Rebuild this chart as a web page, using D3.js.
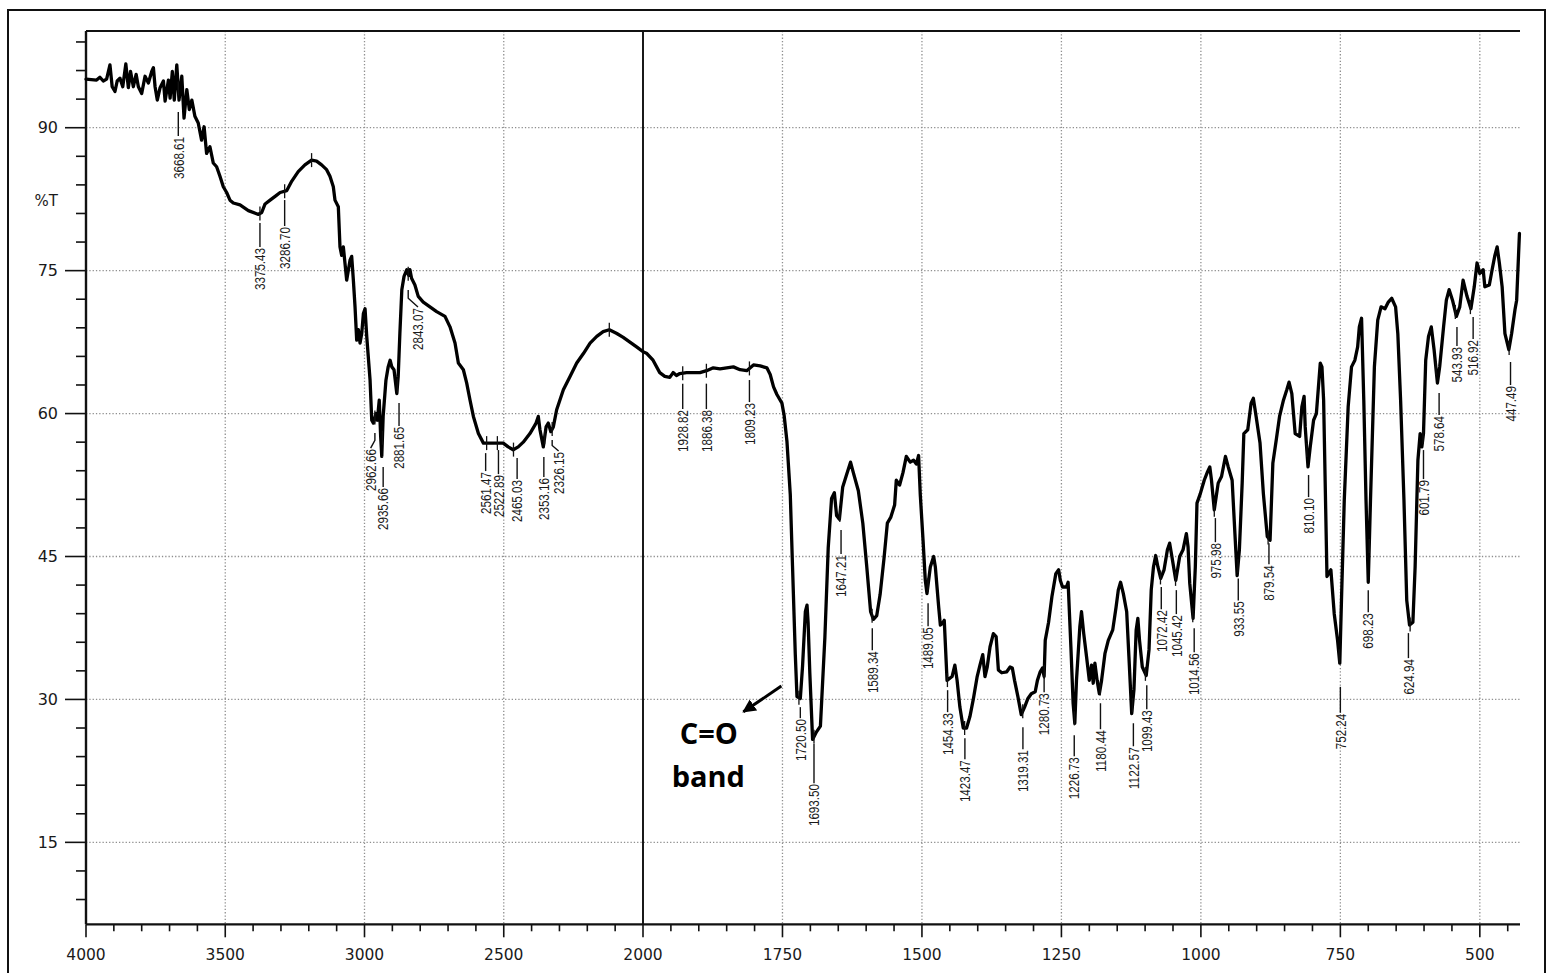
<!DOCTYPE html>
<html><head><meta charset="utf-8">
<script src="https://cdn.jsdelivr.net/npm/d3@7/dist/d3.min.js"></script>
<style>body{margin:0;background:#fff}svg{display:block}</style>
</head><body><svg id="c" width="1551" height="973"></svg>
<script>
// ---------- data ----------
const wavenumber = [4000,3962,3950,3938,3926,3914,3906,3896,3888,3878,3868,3857,3848,3840,3830,3820,3812,3800,3788,3776,3764,3758,3752,3744,3734,3722,3716,3704,3698,3690,3683,3674,3666,3656,3648,3638,3629,3620,3609,3597,3585,3576,3567,3555,3543,3531,3519,3507,3495,3483,3471,3447,3417,3381,3369,3357,3339,3321,3303,3279,3261,3238,3214,3190,3172,3154,3136,3124,3112,3106,3094,3088,3082,3076,3064,3052,3046,3040,3034,3028,3022,3016,3010,3004,2998,2992,2980,2974,2968,2959,2954,2947,2942,2938,2933,2923,2915,2908,2902,2894,2884,2879,2873,2866,2858,2848,2841,2837,2831,2819,2807,2789,2765,2741,2711,2693,2675,2663,2645,2633,2621,2609,2591,2573,2549,2525,2502,2484,2466,2448,2430,2406,2384,2376,2370,2358,2348,2340,2331,2322,2310,2286,2262,2238,2214,2190,2166,2143,2121,2094,2071,2047,2023,2000,
1993,1982,1970,1961,1952,1946,1940,1934,1922,1910,1898,1886,1874,1862,1850,1838,1826,1814,1802,1790,1778,1772,1766,1760,1751,1747,1742,1736,1732,1727,1724,1718,1714,1709,1706,1704,1701,1696,1689,1682,1674,1668,1662,1657,1653,1648,1642,1635,1628,1623,1614,1606,1599,1592,1587,1581,1575,1568,1562,1556,1549,1546,1540,1534,1528,1521,1515,1510,1506,1503,
1498,1494,1491,1485,1479,1476,1470,1467,1463,1460,1455,1446,1441,1437,1432,1426,1420,1414,1408,1401,1396,1391,1387,1383,1378,1372,1367,1363,1357,1348,1342,1338,1334,1328,1322,1316,1310,1304,1297,1293,1288,1284,1281,1279,1273,1267,1260,1255,1252,1248,1241,1238,1233,1229,1226,1223,1217,1214,1210,1205,1200,1196,1193,1190,1186,1182,1178,1172,1166,1158,1152,1148,1144,1139,1133,1129,1124,1120,1116,1113,1110,1105,1098,1093,1089,1085,1081,
1077,1072,1066,1060,1056,1052,1045,1038,1032,1026,1023,1020,1014,1010,1007,1001,994,988,984,981,976,969,963,956,951,944,939,935,931,926,923,916,910,906,901,894,888,881,876,871,865,859,852,846,842,837,831,823,819,815,813,808,804,798,793,786,783,780,774,767,761,755,751,748,743,736,730,724,719,716,712,708,704,700,696,689,683,677,670,664,658,651,647,642,636,631,626,620,616,611,607,604,601,597,592,587,582,576,572,565,560,555,549,542,536,530,523,516,510,505,500,494,491,483,478,473,469,465,460,455,448,443,437,434,429];
const transmittance = [95.1,95.0,95.3,94.9,95.1,96.6,94.3,93.8,94.9,95.2,94.3,96.7,94.2,95.9,94.3,95.6,94.3,93.6,95.4,94.7,95.9,96.3,94.3,92.9,94.2,94.9,92.8,95.0,93.1,95.9,92.9,96.6,92.9,95.4,91.0,94.0,91.9,92.9,91.2,90.5,88.7,90.1,87.3,88.0,86.3,85.9,84.9,83.8,83.2,82.4,82.1,81.9,81.3,80.9,81.1,82.0,82.4,82.8,83.2,83.4,84.4,85.4,86.1,86.6,86.5,86.1,85.6,84.9,83.8,82.4,81.7,77.5,76.6,77.5,74.0,76.1,76.5,74.0,71.2,67.7,68.8,67.4,68.4,70.5,71.0,68.1,63.5,59.3,59.0,60.0,59.3,61.4,57.6,55.5,59.7,63.5,64.9,65.6,64.9,64.6,62.1,63.9,68.4,73.0,74.4,75.1,74.5,75.1,74.2,73.5,72.3,71.7,71.2,70.7,70.2,69.1,67.4,65.3,64.6,63.2,61.4,59.7,57.9,56.9,56.9,56.9,56.9,56.5,56.2,56.5,57.0,57.9,59.0,59.7,58.3,56.5,58.6,59.0,58.1,58.6,60.4,62.5,63.9,65.3,66.3,67.4,68.1,68.6,68.8,68.4,68.0,67.5,67.0,66.5,
66.3,65.6,64.3,63.9,63.8,64.3,64.0,64.2,64.3,64.3,64.3,64.5,64.8,64.7,64.8,64.9,64.6,64.5,65.1,65.0,64.8,64.1,62.8,62.0,61.1,59.8,57.1,51.5,44.0,34.7,30.3,30.1,33.5,39.2,39.9,38.0,32.8,25.8,26.6,27.2,36.5,45.9,51.1,51.7,49.3,48.9,52.3,53.6,54.9,53.8,51.9,48.5,44.0,39.2,38.4,38.8,41.0,44.8,48.5,49.1,50.4,53.0,52.5,53.8,55.5,54.9,55.1,54.7,55.6,51.5,
46.7,42.5,41.1,43.9,45.0,43.9,39.7,37.8,38.0,38.3,32.0,32.4,33.6,32.0,29.2,27.0,27.0,28.2,30.0,32.4,33.6,34.7,32.4,33.4,35.5,36.9,36.6,33.1,32.8,32.9,33.4,33.3,32.0,30.3,28.4,29.2,30.1,30.6,30.8,32.0,32.9,33.3,32.4,36.2,38.1,40.8,43.2,43.6,42.5,41.8,41.8,42.3,35.5,29.6,27.5,32.0,37.6,39.2,36.9,34.5,32.0,33.6,31.7,33.8,32.0,30.6,32.0,34.8,36.2,37.3,39.7,41.5,42.3,41.1,39.2,34.5,28.5,31.0,37.3,38.5,36.2,33.4,32.5,35.2,41.5,43.9,45.1,
43.9,42.7,43.6,45.7,46.4,45.0,42.5,45.0,45.7,47.4,46.0,42.2,38.5,43.9,50.6,51.6,53.0,53.9,54.4,53.0,49.9,52.7,53.4,55.5,54.4,53.0,47.4,43.0,45.7,52.7,57.9,58.3,61.1,61.6,59.7,56.9,51.6,47.1,46.7,54.8,57.2,59.7,61.4,62.5,63.3,62.1,57.9,57.6,60.7,61.8,58.6,54.4,56.5,59.3,60.0,65.3,64.9,61.4,42.9,43.6,39.0,36.2,33.8,40.4,50.9,60.7,64.9,65.6,67.0,69.1,70.0,61.4,50.9,42.3,50.9,64.9,69.8,71.2,71.0,71.7,72.1,71.2,68.4,61.4,50.9,40.4,37.8,38.1,43.9,55.1,57.9,56.5,57.9,65.6,68.1,69.1,66.7,63.2,64.9,69.1,71.9,73.0,71.9,70.2,71.2,74.0,72.3,71.0,73.3,75.8,74.7,75.1,73.3,73.5,75.1,76.6,77.5,75.8,73.3,68.4,66.7,68.4,70.9,71.9,78.9];

const xTickLabels = [4000,3500,3000,2500,2000,1750,1500,1250,1000,750,500];
const yTickLabels = [15,30,45,60,75,90];

// peak annotations: label text, wavenumber where the text sits, %T at top of leader line, %T at top of text
const peakLabels = ["3668.61","3375.43","3286.70","2962.66","2935.66","2881.65","2843.07","2561.47","2522.89","2465.03","2353.16","2326.15","1928.82","1886.38","1809.23","1720.50","1693.50","1647.21","1589.34","1489.05","1454.33","1423.47","1319.31","1280.73","1226.73","1180.44","1122.57","1099.43","1072.42","1045.42","1014.56","975.98","933.55","879.54","810.10","752.24","698.23","624.94","601.79","578.64","543.93","516.92","447.49"];
const peakTextW = [3668.6,3375.4,3286.7,2978,2933,2876,2808,2565,2519,2452,2356,2303,1928.8,1886.4,1809.2,1718,1693.5,1645,1589,1489,1454,1423,1319,1281,1227,1180,1121,1097,1071,1044,1012,974,933,878,807,750,700,628,601,573,541,512,445];
const peakLineTopT = [91.65,80.0,82.41,57.95,54.39,61.1,72.96,55.85,56.17,55.33,55.43,57.22,63.14,63.14,63.52,29.19,25.31,47.77,37.48,40.1,30.97,25.93,27.08,32.86,26.24,29.6,27.5,31.49,41.79,41.47,37.48,49.03,42.7,46.38,53.55,31.32,41.47,36.96,56.17,62.15,69.08,70.13,65.41];
const peakTextTopT = [89.02,77.37,79.58,56.27,52.18,58.6,71.07,53.86,53.54,53.02,53.23,55.96,60.37,60.37,61.1,27.93,21.11,45.15,35.06,37.58,28.56,23.62,24.67,30.65,23.93,26.77,24.98,28.87,39.37,38.85,34.85,46.4,40.29,44.07,51.13,28.49,39.05,34.23,53.02,59.74,66.98,67.72,62.89];
const extraMarks = [3190, 2121];

const noteLines = ["C=O", "band"];
const noteW = [1882, 1883];
const noteT = [25.3, 20.8];
const arrowW = [1752, 1820];
const arrowT = [31.4, 28.7];

// ---------- scales ----------
const svg = d3.select("#c");
const x = d3.scaleLinear().domain([4000, 2000, 428]).range([86, 643, 1520]);
const y = d3.scaleLinear().domain([6.4, 100.15]).range([924.3, 31]);
const X0 = 86, X1 = 1520, Y0 = 31, Y1 = 924.3;

// outer frame
svg.append("rect").attr("x", 8).attr("y", 10).attr("width", 1537).attr("height", 990)
  .attr("fill", "none").attr("stroke", "#111").attr("stroke-width", 2);

// grid
const gridX = xTickLabels.filter(d => d !== 4000 && d !== 2000);
svg.append("g").selectAll("line").data(gridX).join("line")
  .attr("x1", d => x(d)).attr("x2", d => x(d)).attr("y1", Y0).attr("y2", Y1)
  .attr("stroke", "#8f8f8f").attr("stroke-width", 1.3).attr("stroke-dasharray", "1.3,2");
svg.append("g").selectAll("line").data(yTickLabels).join("line")
  .attr("x1", X0).attr("x2", X1).attr("y1", d => y(d)).attr("y2", d => y(d))
  .attr("stroke", "#8f8f8f").attr("stroke-width", 1.3).attr("stroke-dasharray", "1.3,2");

// scale-break line at 2000
svg.append("line").attr("x1", x(2000)).attr("x2", x(2000)).attr("y1", Y0).attr("y2", Y1)
  .attr("stroke", "#000").attr("stroke-width", 1.8);

// axes lines
svg.append("line").attr("x1", X0).attr("x2", X1).attr("y1", Y0).attr("y2", Y0).attr("stroke", "#111").attr("stroke-width", 2.2);
svg.append("line").attr("x1", X0).attr("x2", X0).attr("y1", Y0).attr("y2", Y1).attr("stroke", "#111").attr("stroke-width", 2.4);
svg.append("line").attr("x1", X0).attr("x2", X1).attr("y1", Y1).attr("y2", Y1).attr("stroke", "#111").attr("stroke-width", 2.2);

// x ticks
const xMinor = d3.range(3900, 2000, -100).concat(d3.range(1950, 440, -50)).filter(d => !xTickLabels.includes(d));
svg.append("g").selectAll("line").data(xMinor).join("line")
  .attr("x1", d => x(d)).attr("x2", d => x(d)).attr("y1", Y1).attr("y2", Y1 + 7)
  .attr("stroke", "#111").attr("stroke-width", 1.6);
svg.append("g").selectAll("line").data(xTickLabels).join("line")
  .attr("x1", d => x(d)).attr("x2", d => x(d)).attr("y1", Y1).attr("y2", Y1 + 13)
  .attr("stroke", "#111").attr("stroke-width", 1.6);
svg.append("g").selectAll("text").data(xTickLabels).join("text")
  .attr("x", d => x(d)).attr("y", 960).attr("text-anchor", "middle")
  .attr("font-family", "DejaVu Sans, sans-serif").attr("font-size", 15.5).attr("fill", "#1a1a1a")
  .text(d => d);

// y ticks
const yMinor = d3.range(9, 100, 3).filter(d => !yTickLabels.includes(d));
svg.append("g").selectAll("line").data(yMinor).join("line")
  .attr("x1", X0 - 10).attr("x2", X0).attr("y1", d => y(d)).attr("y2", d => y(d))
  .attr("stroke", "#111").attr("stroke-width", 1.6);
svg.append("g").selectAll("line").data(yTickLabels).join("line")
  .attr("x1", X0 - 21).attr("x2", X0).attr("y1", d => y(d)).attr("y2", d => y(d))
  .attr("stroke", "#111").attr("stroke-width", 1.6);
svg.append("g").selectAll("text").data(yTickLabels).join("text")
  .attr("x", 58).attr("y", d => y(d)).attr("dy", "0.36em").attr("text-anchor", "end")
  .attr("font-family", "DejaVu Sans, sans-serif").attr("font-size", 16).attr("fill", "#1a1a1a")
  .text(d => d);
svg.append("text").attr("x", 58).attr("y", y(82.3)).attr("dy", "0.36em").attr("text-anchor", "end")
  .attr("font-family", "DejaVu Sans, sans-serif").attr("font-size", 15).attr("fill", "#1a1a1a").text("%T");

// spectrum
const pts = wavenumber.map((w, i) => [w, transmittance[i]]);
const line = d3.line().x(d => x(d[0])).y(d => y(d[1]));
svg.append("path").datum(pts).attr("d", line).attr("fill", "none")
  .attr("stroke", "#000").attr("stroke-width", 3.3).attr("stroke-linejoin", "round").attr("stroke-linecap", "round");

// interpolator along the curve for the peak markers
const curveAt = d3.scaleLinear().domain(wavenumber).range(transmittance);

// peak markers on the curve
const markW = peakLabels.map(Number).concat(extraMarks);
svg.append("g").selectAll("line").data(markW).join("line")
  .attr("x1", d => x(d)).attr("x2", d => x(d))
  .attr("y1", d => y(curveAt(d)) - 7).attr("y2", d => y(curveAt(d)) + 7)
  .attr("stroke", "#111").attr("stroke-width", 1.3);

// leader lines and labels
const ann = peakLabels.map((s, i) => ({s, pw: +s, tw: peakTextW[i], lt: peakLineTopT[i], tt: peakTextTopT[i]}));
svg.append("g").selectAll("path").data(ann).join("path")
  .attr("d", d => {
    const px = x(d.pw), tx = x(d.tw), ly = y(d.lt), ty = y(d.tt);
    if (Math.abs(px - tx) > 4) {
      const my = ly + (ty - ly) * 0.45;
      return `M${px},${ly}L${px},${my}L${tx},${ty - 1}`;
    }
    return `M${tx},${ly}L${tx},${ty - 1}`;
  })
  .attr("fill", "none").attr("stroke", "#111").attr("stroke-width", 1.4);
svg.append("g").selectAll("text").data(ann).join("text")
  .attr("transform", d => `translate(${x(d.tw)},${y(d.tt)}) rotate(-90)`)
  .attr("text-anchor", "end").attr("dy", "0.36em")
  .attr("font-family", "Liberation Sans, Arial, sans-serif").attr("font-size", 14.5).attr("fill", "#1a1a1a")
  .attr("textLength", d => (d.s.length - 1) * 6.45 + 3.2).attr("lengthAdjust", "spacingAndGlyphs")
  .text(d => d.s);

// C=O band note and arrow
svg.append("defs").append("marker").attr("id", "ah").attr("viewBox", "0 0 10 10")
  .attr("refX", 9).attr("refY", 5).attr("markerWidth", 4.5).attr("markerHeight", 4.5).attr("orient", "auto")
  .append("path").attr("d", "M0,0L10,5L0,10z").attr("fill", "#000");
svg.append("line").attr("x1", x(arrowW[0])).attr("y1", y(arrowT[0])).attr("x2", x(arrowW[1])).attr("y2", y(arrowT[1]))
  .attr("stroke", "#000").attr("stroke-width", 3).attr("marker-end", "url(#ah)");
svg.append("g").selectAll("text").data(noteLines).join("text")
  .attr("x", (d, i) => x(noteW[i])).attr("y", (d, i) => y(noteT[i])).attr("text-anchor", "middle")
  .attr("font-family", "Open Sans, sans-serif").attr("font-weight", 700).attr("font-size", 29).attr("fill", "#000")
  .text(d => d);
</script></body></html>
